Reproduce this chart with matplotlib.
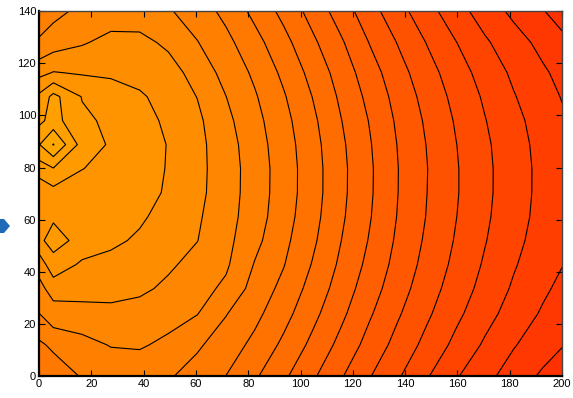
import matplotlib
matplotlib.use("Agg")
import matplotlib.pyplot as plt
import numpy as np
from matplotlib.colors import Normalize
from matplotlib.patches import Polygon

# grid positions of the measured field
x_pos = [0, 5.5, 16.5, 27.5, 38.5, 49.5, 60.5, 71.5, 82.5, 93.5,
         104.5, 115.5, 126.5, 137.5, 148.5, 159.5, 170.5, 181.5, 192.5, 200]
y_pos = [0, 12, 24, 33.6, 42.8, 52, 61.2, 70.4, 79.6, 88.8,
         98, 107.2, 116.4, 128, 140]

# field values, one row per y position (bottom to top)
z_rows = [
    [9.35, 9.4, 10.08, 10.4, 10.45, 10.1, 9.61, 8.99, 8.14, 7.18, 6.17, 5.09, 4.05, 3.09, 2.07, 1.09, 0.29, -0.45, -1.16, -1.63],
    [9.82, 10.2, 10.7, 11.05, 11.1, 10.8, 10.14, 9.51, 8.75, 7.8, 6.77, 5.71, 4.63, 3.64, 2.69, 1.74, 0.86, 0.07, -0.54, -0.94],
    [10.98, 11.65, 11.6, 11.7, 11.6, 11.35, 11.04, 10.05, 9.27, 8.35, 7.29, 6.22, 5.11, 4.09, 3.15, 2.23, 1.36, 0.58, -0.11, -0.49],
    [11.75, 12.34, 12.45, 12.4, 12.2, 11.8, 11.37, 10.8, 9.62, 8.73, 7.65, 6.55, 5.45, 4.4, 3.44, 2.53, 1.67, 0.87, 0.18, -0.23],
    [12.3, 13.75, 12.8, 12.7, 12.5, 12.15, 11.68, 11.15, 9.94, 9.05, 7.95, 6.81, 5.72, 4.63, 3.66, 2.75, 1.88, 1.09, 0.41, 0.03],
    [13.86, 14.25, 13.79, 13.2, 12.85, 12.41, 12.02, 11.29, 10.27, 9.26, 8.19, 7.01, 5.92, 4.8, 3.82, 2.91, 2.05, 1.27, 0.58, 0.14],
    [13.5, 13.91, 13.55, 13.45, 13.15, 12.63, 12.13, 11.4, 10.46, 9.43, 8.35, 7.16, 6.06, 4.92, 3.94, 3.02, 2.16, 1.39, 0.69, 0.25],
    [13.22, 13.67, 13.6, 13.55, 13.3, 12.9, 12.25, 11.47, 10.52, 9.52, 8.44, 7.24, 6.13, 4.98, 3.99, 3.08, 2.22, 1.44, 0.74, 0.3],
    [14.5, 14.95, 14.02, 13.75, 13.35, 12.95, 12.28, 11.48, 10.53, 9.53, 8.44, 7.25, 6.14, 4.99, 4.01, 3.08, 2.22, 1.45, 0.74, 0.31],
    [15.94, 17.05, 14.59, 13.87, 13.45, 12.96, 12.28, 11.42, 10.45, 9.46, 8.37, 7.18, 6.07, 4.93, 3.95, 3.02, 2.17, 1.39, 0.69, 0.25],
    [14.75, 15.38, 14.19, 13.81, 13.3, 12.85, 12.2, 11.25, 10.31, 9.32, 8.22, 7.03, 5.94, 4.81, 3.83, 2.9, 2.04, 1.27, 0.58, 0.14],
    [14.2, 15.3, 13.95, 13.6, 13.15, 12.57, 11.98, 11.01, 10.1, 9.1, 7.99, 6.82, 5.72, 4.62, 3.64, 2.71, 1.86, 1.06, 0.4, -0.05],
    [12.7, 13.05, 12.9, 12.8, 12.6, 12.45, 11.58, 10.69, 9.82, 8.79, 7.69, 6.56, 5.44, 4.36, 3.38, 2.46, 1.6, 0.82, 0.15, -0.28],
    [11.1, 11.5, 11.9, 12.3, 12.3, 11.79, 11.04, 10.27, 9.34, 8.32, 7.2, 6.13, 4.95, 3.92, 2.94, 2.02, 1.14, 0.41, -0.28, -0.75],
    [10.5, 10.7, 11.25, 11.45, 11.4, 11.1, 10.51, 9.73, 8.73, 7.72, 6.64, 5.53, 4.38, 3.34, 2.36, 1.39, 0.54, -0.23, -0.94, -1.43],
]

levels = np.arange(-2, 19)
x_ticks = [0, 20, 40, 60, 80, 100, 120, 140, 160, 180, 200]
y_ticks = [0, 20, 40, 60, 80, 100, 120, 140]

X, Y = np.meshgrid(x_pos, y_pos)
Z = np.array(z_rows)

fig = plt.figure(figsize=(5.73, 3.98), dpi=100)
ax = fig.add_axes([0.068, 0.055, 0.913, 0.917])

norm = Normalize(vmin=-9, vmax=30)
ax.contourf(X, Y, Z, levels=levels, cmap='autumn', norm=norm, antialiased=False)
ax.contour(X, Y, Z, levels=levels[:-1], colors='black', linewidths=0.8,
           linestyles='solid')

ax.set_xlim(0, 200)
ax.set_ylim(0, 140)
ax.set_xticks(x_ticks)
ax.set_yticks(y_ticks)
ax.tick_params(direction='in', length=4, width=0.8, top=True, right=True,
               labelsize=8, pad=2)
for lab in ax.get_xticklabels() + ax.get_yticklabels():
    lab.set_fontfamily('Liberation Sans')

for side in ['left', 'bottom']:
    ax.spines[side].set_linewidth(1.6)
    ax.spines[side].set_color('black')
for side in ['top', 'right']:
    ax.spines[side].set_linewidth(1.0)
    ax.spines[side].set_color('#444444')

# blue arrow remnant at the left edge
pts = [(0, 219), (4, 219), (10, 226), (4, 233), (0, 233)]
arrow = Polygon([(px / 573, 1 - py / 398) for px, py in pts], closed=True,
                transform=fig.transFigure, facecolor='#1f6ab8', edgecolor='none')
fig.patches.append(arrow)

fig.savefig('out.png', dpi=100)
